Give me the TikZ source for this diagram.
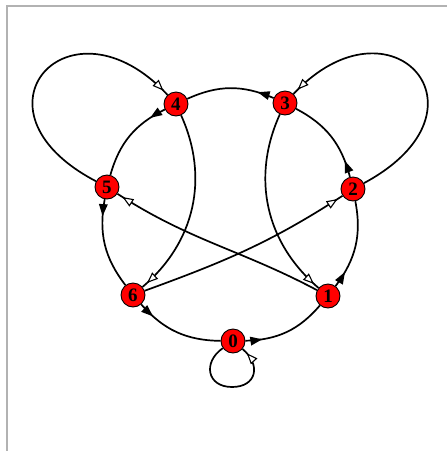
\documentclass[tikz,border=0pt]{standalone}
\usepackage{fontspec}
\setmainfont{Liberation Serif}
\usetikzlibrary{arrows.meta,decorations.markings}
\begin{document}
\begin{tikzpicture}[x=1pt,y=1pt,
  vtx/.style={circle,fill=red,draw=black,line width=0.9pt,minimum size=24pt,inner sep=0pt,font=\fontsize{19}{19}\selectfont\bfseries},
  edge/.style={line width=1.7pt,black},
  fwd/.style={postaction={decorate},decoration={markings,mark=at position 17pt with {\arrow{Triangle[length=12pt,width=8.5pt]}}}},
  back/.style={postaction={decorate},decoration={markings,mark=at position -6pt with {\arrow{Triangle[length=11pt,width=8.5pt,fill=white,line width=1.1pt]}}}}
]
\useasboundingbox (0,0) rectangle (447,-451);
\draw[gray!60,line width=1.2pt] (7,-451) -- (7,-6) -- (447,-6);

\node[vtx] (0) at (233,-341) {0};
\node[vtx] (1) at (328,-296) {1};
\node[vtx] (2) at (353,-189) {2};
\node[vtx] (3) at (285,-103) {3};
\node[vtx] (4) at (176,-104) {4};
\node[vtx] (5) at (107,-187) {5};
\node[vtx] (6) at (133,-295) {6};
\coordinate (lb) at (232,-387);

\draw[edge,fwd] (3) to[bend right=24] (4);
\draw[edge,fwd] (4) to[bend right=24] (5);
\draw[edge,fwd] (5) to[bend right=24] (6);
\draw[edge,fwd] (6) to[bend right=24] (0);
\draw[edge,fwd] (0) to[bend right=24] (1);
\draw[edge,fwd] (1) to[bend right=24] (2);
\draw[edge,fwd] (2) to[bend right=24] (3);

\draw[edge,back] (1) to[out=152,in=-33] (5);
\draw[edge,back] (6) to[out=20,in=213] (2);
\draw[edge,back] (4) to[bend left=37] (6);
\draw[edge,back] (3) to[bend right=37] (1);
\draw[edge,back] (5) .. controls (-40,-110) and (70,10) .. (4);
\draw[edge,back] (2) .. controls (500,-110) and (391,10) .. (3);
\draw[edge,back] (0) to[out=215,in=180,looseness=1.6] (lb) to[out=0,in=-40,looseness=1.6] (0);
\end{tikzpicture}
\end{document}
